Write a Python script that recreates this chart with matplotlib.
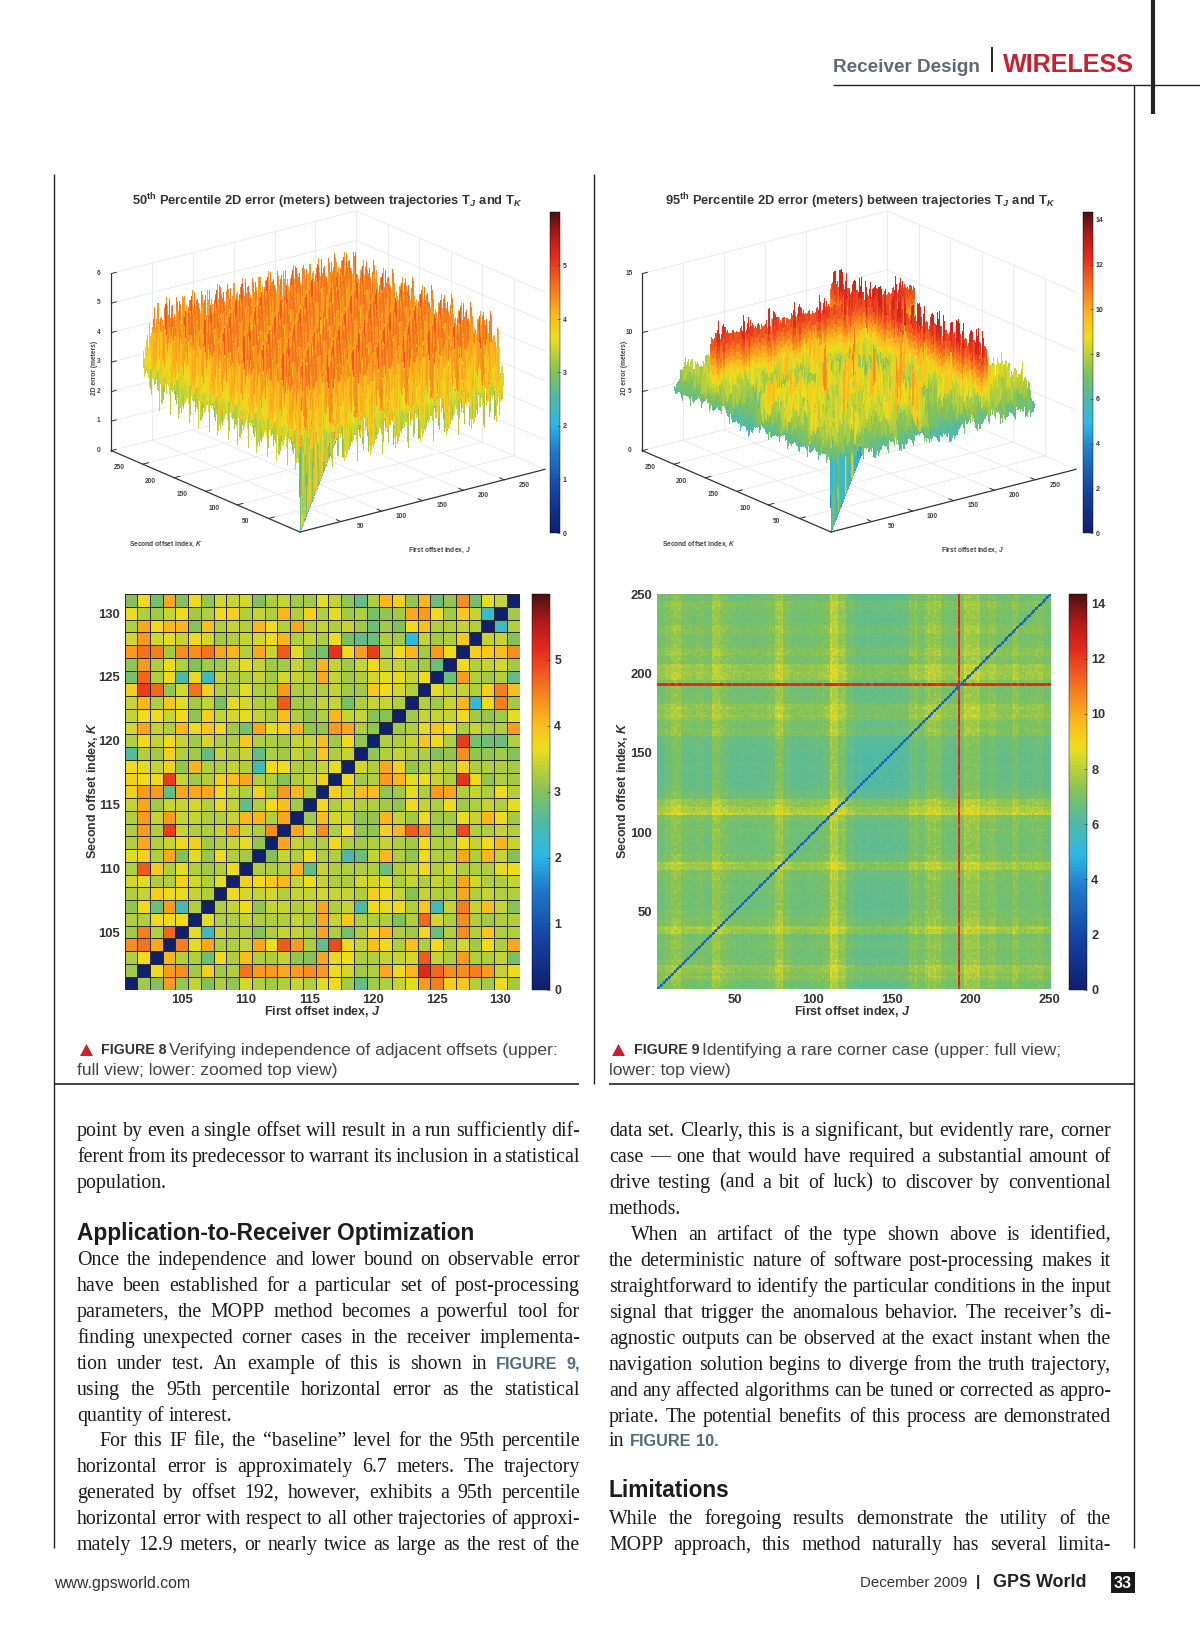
#!/usr/bin/python3
# coding=utf-8
import numpy as np
import matplotlib
matplotlib.use("Agg")
import matplotlib.pyplot as plt
from matplotlib import font_manager
from matplotlib.cm import ScalarMappable
from matplotlib.colors import LinearSegmentedColormap, Normalize
from mpl_toolkits.mplot3d import proj3d

plt.rcParams['font.family'] = ['Liberation Sans', 'DejaVu Sans']
plt.rcParams['mathtext.fontset'] = 'custom'
plt.rcParams['mathtext.rm'] = 'Liberation Sans:bold'
plt.rcParams['mathtext.it'] = 'Liberation Sans:italic:bold'
plt.rcParams['mathtext.bf'] = 'Liberation Sans:bold'

# Figure 8 lower panel, read cell by cell (rows K=131 down to K=101, columns J=101..131)
FIG8_ZOOM = [
    [3.0,3.7,2.9,4.2,3.0,3.7,3.1,3.5,3.4,3.5,3.0,3.3,3.4,3.2,3.2,3.6,3.4,3.1,2.7,3.3,4.1,3.8,3.1,4.1,2.8,3.1,4.4,2.9,3.6,3.4,0],
    [3.7,3.3,3.2,3.4,3.7,3.2,3.3,3.7,3.8,3.3,3.4,3.3,4.1,3.3,3.8,3.3,3.6,3.2,3.3,2.9,3.1,3.2,4.2,4.3,3.7,3.2,3.9,3.4,2.2,0,3.2],
    [3.3,4.2,3.7,4.1,4.1,3.0,4.0,3.3,3.4,3.3,4.1,3.7,3.3,4.2,3.3,3.4,3.3,3.4,3.2,2.8,3.2,3.0,3.7,4.0,3.3,3.3,3.4,3.3,0,2.3,3.3],
    [3.5,4.3,3.5,3.6,3.4,3.7,3.5,3.2,3.3,3.4,3.5,3.7,4.1,3.3,3.4,3.3,3.7,2.9,2.7,2.8,3.3,3.2,2.1,3.4,3.2,3.3,3.9,0,3.4,3.4,3.0],
    [4.3,4.6,4.5,3.2,4.4,4.4,4.6,4.2,4.1,3.3,4.2,3.4,4.8,3.6,3.1,2.9,5.1,3.7,4.3,5.0,3.3,3.7,4.1,3.2,4.3,3.7,0,3.8,3.9,4.0,4.4],
    [3.1,4.3,3.3,3.7,3.3,3.0,3.2,3.2,3.4,3.6,3.4,3.2,3.2,3.4,3.2,4.1,3.4,3.2,3.4,3.7,3.4,3.4,3.3,3.2,2.8,0,3.7,3.3,3.4,3.5,3.2],
    [2.9,4.7,3.3,3.7,2.5,3.6,2.3,3.4,3.3,3.3,3.4,3.2,3.5,3.4,3.3,4.2,3.4,3.2,3.3,3.5,3.6,3.6,3.4,3.7,0,2.8,4.3,3.3,3.2,3.3,2.7],
    [3.8,5.0,4.7,3.1,3.5,4.6,3.8,3.3,3.3,3.6,3.3,3.3,4.3,3.3,3.3,3.3,3.4,3.2,3.2,3.9,3.7,3.5,3.3,0,3.6,3.4,3.4,3.3,3.8,4.5,4.0],
    [3.4,4.1,3.3,3.9,3.6,3.2,3.4,2.9,3.6,3.5,3.3,3.3,4.8,3.2,3.2,3.4,3.4,2.9,3.3,3.4,3.4,3.3,0,3.3,3.2,3.4,4.1,2.2,3.7,4.5,3.2],
    [3.4,3.7,3.7,3.4,3.7,3.1,3.8,3.4,3.5,3.6,3.4,3.3,4.0,3.3,3.1,3.3,4.1,3.4,3.4,3.0,3.0,0,3.2,3.4,3.4,3.4,3.7,3.2,3.1,3.2,3.6],
    [3.5,4.2,3.4,3.3,4.1,3.7,3.9,3.7,3.2,2.9,4.2,3.6,3.8,4.1,3.1,3.1,4.3,4.2,3.3,3.1,0,3.2,3.3,3.6,3.9,3.7,3.3,3.4,3.3,3.3,4.3],
    [3.3,3.7,3.4,3.7,3.4,3.2,3.5,3.3,3.3,3.9,3.3,3.3,3.2,3.4,3.4,4.0,3.2,3.7,3.1,0,3.3,3.3,3.4,3.9,3.7,3.3,5.0,2.9,2.8,2.8,3.3],
    [2.6,3.3,3.2,3.8,3.3,3.2,2.7,3.4,3.3,3.4,2.7,3.3,3.2,3.4,3.2,3.9,3.3,3.4,0,3.1,3.3,3.4,3.3,3.3,3.0,3.1,4.4,3.1,3.1,3.2,3.0],
    [3.7,3.6,3.4,3.8,3.1,4.1,3.3,3.3,3.4,3.3,2.4,3.7,3.7,3.3,3.3,3.4,3.6,0,3.5,3.3,4.2,3.8,3.1,3.3,3.4,3.3,3.8,3.3,3.3,3.3,3.2],
    [3.8,3.7,3.7,5.0,3.4,3.2,3.3,3.8,4.0,4.2,3.3,3.3,3.0,3.3,3.4,3.8,0,3.7,3.2,3.3,4.3,4.1,3.6,3.7,3.4,3.3,5.1,3.7,3.1,3.3,3.2],
    [3.8,4.3,4.3,2.7,4.2,4.2,4.2,3.7,3.4,3.3,3.8,3.3,4.3,4.1,3.3,0,3.8,3.5,4.0,4.0,3.1,3.2,3.6,3.3,4.3,4.2,3.3,3.4,3.3,3.7,3.3],
    [3.4,4.2,3.2,3.4,3.4,3.5,3.3,3.6,3.4,2.7,3.3,3.7,4.0,3.2,0,3.7,3.3,3.5,3.3,3.3,3.2,3.1,3.7,3.4,3.3,3.7,3.2,3.3,3.4,3.3,3.6],
    [3.3,4.3,3.4,4.3,3.4,3.4,3.3,3.3,3.4,4.1,4.1,3.3,4.2,0,3.2,4.0,3.5,3.4,3.1,3.1,4.1,3.4,3.2,3.7,3.2,3.2,3.7,3.4,4.1,3.7,3.2],
    [3.3,4.3,3.3,5.0,3.4,3.3,3.3,3.4,4.2,3.4,3.3,4.4,0,4.2,3.5,4.4,3.3,3.7,3.1,3.1,3.8,4.1,4.8,4.4,3.2,3.3,4.9,3.3,3.3,3.4,3.3],
    [3.3,4.2,3.3,3.4,3.7,3.8,3.2,3.3,3.4,3.6,3.1,0,4.2,3.4,3.3,3.3,3.7,3.3,3.2,3.3,3.4,3.3,3.2,3.7,3.3,3.3,3.7,3.4,3.7,4.1,3.4],
    [3.6,3.8,3.3,4.2,3.0,3.6,3.1,3.7,3.3,3.2,0,3.0,3.4,3.3,3.7,3.3,3.3,2.5,2.8,3.4,4.1,3.3,3.1,3.7,3.3,3.3,4.2,3.3,4.1,3.4,3.0],
    [3.3,4.8,3.9,3.3,3.6,3.3,3.2,3.3,3.7,0,3.3,3.3,3.3,4.1,2.7,3.4,3.3,3.3,3.3,3.3,2.8,3.3,3.4,3.7,3.3,3.5,3.3,3.3,3.3,3.6,3.7],
    [3.5,3.6,3.3,3.3,3.8,3.5,3.3,3.6,0,3.8,3.7,3.9,4.1,3.4,3.7,3.4,3.3,3.3,3.5,3.5,3.6,3.3,3.4,3.3,3.4,3.3,4.2,3.5,3.3,3.3,3.4],
    [3.3,3.4,3.8,3.7,3.6,3.4,3.3,0,3.7,3.5,3.4,3.5,3.3,3.4,3.4,3.5,3.4,3.4,3.3,3.8,3.7,3.4,3.0,3.4,3.3,3.3,4.2,3.3,3.4,3.3,3.3],
    [3.1,3.7,2.8,4.3,2.4,3.3,0,3.3,3.4,3.7,3.1,3.4,3.4,3.3,3.4,4.2,3.3,3.4,2.5,3.7,3.6,3.7,3.3,3.9,2.4,3.4,4.5,3.4,4.0,3.4,3.0],
    [3.3,3.3,3.7,3.7,3.7,0,3.6,3.3,3.3,3.4,3.3,3.3,3.3,3.4,3.3,4.2,3.4,3.9,3.3,3.3,3.3,3.0,3.3,4.7,3.5,3.3,4.4,3.3,3.2,3.3,3.3],
    [3.2,4.5,3.3,4.7,0,3.6,2.3,3.4,3.3,3.3,3.0,3.3,3.4,3.4,3.3,4.2,3.3,2.9,3.3,3.8,4.1,3.3,3.2,3.7,2.8,3.3,4.4,3.3,3.9,3.3,3.3],
    [4.4,4.6,4.2,0,4.5,3.6,4.2,3.3,3.3,3.4,4.2,3.7,4.8,4.3,3.3,2.7,4.9,3.7,3.4,4.0,3.7,3.3,4.0,3.3,3.7,3.3,3.5,3.2,3.7,3.3,4.2],
    [3.3,3.7,0,4.1,3.3,3.3,2.8,3.7,3.3,4.0,3.3,3.3,3.4,3.1,3.0,4.2,3.6,3.7,3.3,3.3,3.4,3.4,3.5,4.8,3.4,3.3,4.3,3.3,3.3,3.4,2.9],
    [3.2,0,3.7,4.3,4.4,3.2,3.8,3.2,3.3,4.6,4.3,4.3,4.2,4.3,4.4,4.3,3.7,3.5,3.2,3.3,4.2,3.7,4.1,5.2,4.7,4.4,4.4,4.5,4.3,3.4,3.7],
    [0,3.2,3.0,4.3,3.1,3.4,3.0,3.3,3.1,3.5,3.3,3.2,3.3,3.4,3.3,3.6,3.7,3.2,2.7,3.2,3.3,3.4,3.6,4.3,4.5,3.8,3.9,3.3,3.2,3.7,3.2],
]
ZOOM_TICKS = [105, 110, 115, 120, 125, 130]

# Figure 9 band level against the 6.7 m baseline, one value per 5 offsets, read from the top view
BAND_LEVELS = [
    0.1, 0.5, 0.8, 0.2, 0.1, 0.3, 0.1, 1.0, 0.4, 0.1,
    0.0, 0.0, 0.1, 0.1, 0.3, 1.0, 0.3, 0.0, 0.0, 0.1,
    0.1, 0.3, 1.4, 0.8, 0.0, -0.3, -0.4, -0.4, -0.4, -0.4,
    -0.3, -0.2, 0.4, 0.2, 0.7, 0.8, 0.2, 0.1, 0.3, 1.0,
    0.9, 0.3, 0.6, 0.2, 0.2, 0.5, 0.1, 0.2, 0.4, 0.0,
]
BASELINE = 6.7
CORNER_OFFSET = 192
CORNER_LEVEL = 12.4
DIAGONAL_TOP_VIEW = 3.0
FULL_TICKS = [50, 100, 150, 200, 250]

# Tallest spikes seen in the Figure 8 surface: J, K, height
FIG8_SPIKES_J = [212, 230, 190, 170, 150, 240, 120]
FIG8_SPIKES_K = [221, 210, 225, 232, 240, 190, 236]
FIG8_SPIKES_Z = [5.9, 5.9, 5.4, 5.3, 5.2, 5.4, 5.1]

CB8_MAX = 6.0
CB9_MAX = 14.35

# The 250x250 matrices cannot be read cell by cell from the page. Their fine texture
# reuses the read 31x31 matrix above, stepped through so that neighbours differ,
# so it is an approximation of the look and not the real per-cell data.
STEP_J, STEP_K = 7, 13
N_FULL = 250

cmap = LinearSegmentedColormap.from_list("print_jet", [
    (0.00, "#101f6e"), (0.12, "#1440a0"), (0.25, "#1f78c8"), (0.34, "#2cb8e6"),
    (0.42, "#4fb9a8"), (0.50, "#82c25a"), (0.56, "#bcd138"), (0.61, "#eedd1e"),
    (0.68, "#fbb81e"), (0.78, "#f26a1f"), (0.86, "#e52a1e"), (0.93, "#b01a18"),
    (1.00, "#4d1010")])

W, H = 1200, 1626
fig = plt.figure(figsize=(W / 100, H / 100), dpi=100, facecolor="white")
page = fig.add_axes([0, 0, 1, 1])
page.set_xlim(0, W)
page.set_ylim(H, 0)
page.set_xticks([])
page.set_yticks([])
page.axis("off")

installed = {f.name for f in font_manager.fontManager.ttflist}
NARROW = "Liberation Sans Narrow" if "Liberation Sans Narrow" in installed else "Liberation Sans"


def px_axes(x0, y0, x1, y1, **kw):
    return fig.add_axes([x0 / W, 1 - y1 / H, (x1 - x0) / W, (y1 - y0) / H], **kw)


def texture():
    m = np.array(FIG8_ZOOM, dtype=float)
    typical = m[m > 1].mean()
    m[m < 1] = typical
    jj = (np.arange(N_FULL) * STEP_J) % 31
    kk = (np.arange(N_FULL) * STEP_K) % 31
    return m[np.ix_(kk, jj)], typical


def fig8_matrix():
    tex, typical = texture()
    z = typical + 0.1 + (tex - typical) * 1.25
    for j, k, s in zip(FIG8_SPIKES_J, FIG8_SPIKES_K, FIG8_SPIKES_Z):
        z[k - 1, j - 1] = s
    z[np.arange(N_FULL), np.arange(N_FULL)] = 0
    return z


def fig9_matrix(band_gain, tex_gain, ridge_gain, spike_gain):
    tex, typical = texture()
    band = np.repeat(BAND_LEVELS, 5) * band_gain
    bands = band[:, None] + band[None, :]
    z = BASELINE + bands + (tex - typical) * (tex_gain + spike_gain * np.maximum(bands, 0))
    i = CORNER_OFFSET - 1
    z[i, :] = CORNER_LEVEL + (tex[i, :] - typical) * ridge_gain
    z[:, i] = CORNER_LEVEL + (tex[:, i] - typical) * ridge_gain
    return z


def to_screen(ax, x, y, z):
    a, b, _ = proj3d.proj_transform(x, y, z, ax.get_proj())
    return ax.transData.transform((a, b))


def label_3d(ax, x, y, z, s, fs):
    # 3D labels are placed on the page at the projected position of their data point
    px = to_screen(ax, x, y, z)
    page.text(px[0], H - px[1], s, fontsize=fs, fontweight="bold", color="#444444",
              ha="center", va="center")


def refined_mesh(z, offsets):
    # extra grid lines next to a ridge so that its walls shade from bottom to top
    base = np.arange(1, N_FULL + 1, dtype=float)
    grid = set(base.tolist())
    for o in offsets:
        grid.update(np.linspace(o - 1, o + 1, 17).tolist())
    grid = np.array(sorted(grid))
    zr = np.array([np.interp(grid, base, row) for row in z])
    zr = np.array([np.interp(grid, base, col) for col in zr.T]).T
    return grid, zr


def surface_panel(z, vmax, zmax, zticks, origin, jend, refine=(), ztick_fs=4.8):
    ax = fig.add_axes([0.1, 0.6, 0.4, 0.3], projection="3d")
    ax.patch.set_alpha(0)
    ax.set_proj_type("ortho")
    ax.view_init(elev=19.4, azim=-127.6)
    ax.set_xlim(0, 300)
    ax.set_ylim(0, 300)
    ax.set_zlim(0, zmax)
    ax.set_box_aspect((1, 1, 0.607))
    ax.set_xticks([])
    ax.set_yticks([])
    ax.set_zticks([])
    ax.set_axis_off()
    ax.computed_zorder = False

    # fit the axes so that the box corners land where they sit on the page
    for _ in range(3):
        ax.apply_aspect()
        p0 = to_screen(ax, 0, 0, 0)
        p1 = to_screen(ax, 300, 0, 0)
        pos = ax.get_position()
        s = (jend[0] - origin[0]) / (p1[0] - p0[0])
        ax.set_position([pos.x0, pos.y0, pos.width * s, pos.height * s])
        ax.apply_aspect()
        p0 = to_screen(ax, 0, 0, 0)
        pos = ax.get_position()
        ax.set_position([pos.x0 + (origin[0] - p0[0]) / W,
                         pos.y0 + ((H - origin[1]) - p0[1]) / H,
                         pos.width, pos.height])
    ax.apply_aspect()

    grid = dict(color="#e4e4e4", lw=0.5, zorder=1)
    for t in FULL_TICKS:
        ax.plot([t, t], [0, 300], [0, 0], **grid)
        ax.plot([0, 300], [t, t], [0, 0], **grid)
        ax.plot([t, t], [300, 300], [0, zmax], **grid)
        ax.plot([300, 300], [t, t], [0, zmax], **grid)
    for t in zticks[1:]:
        ax.plot([0, 300], [300, 300], [t, t], **grid)
        ax.plot([300, 300], [0, 300], [t, t], **grid)
    ax.plot([300, 300], [300, 300], [0, zmax], **grid)
    ax.plot([300, 300], [0, 300], [0, 0], **grid)
    ax.plot([0, 300], [300, 300], [0, 0], **grid)

    off, zr = refined_mesh(z, refine)
    jj, kk = np.meshgrid(off, off)
    # a cell takes its colour a little above its mean, towards its highest corner
    stack = np.stack([zr[:-1, :-1], zr[1:, :-1], zr[:-1, 1:], zr[1:, 1:]])
    mean = stack.mean(axis=0)
    val = mean + 0.2 * (stack.max(axis=0) - mean)
    colors = cmap(Normalize(0, vmax)(val))
    ax.plot_surface(jj, kk, zr, rstride=1, cstride=1, facecolors=colors,
                    linewidth=0, antialiased=False, shade=False, zorder=2)

    edge = dict(color="#333333", lw=0.9, zorder=3)
    ax.plot([0, 300], [0, 0], [0, 0], **edge)
    ax.plot([0, 0], [0, 300], [0, 0], **edge)
    ax.plot([0, 0], [300, 300], [0, zmax], **edge)
    tick = dict(color="#333333", lw=0.7, zorder=3)
    for t in FULL_TICKS:
        ax.plot([t, t], [0, 7], [0, 0], **tick)
        ax.plot([0, 7], [t, t], [0, 0], **tick)
        label_3d(ax, t + 6, -24, 0, str(t), ztick_fs)
        label_3d(ax, -24, t + 6, 0, str(t), ztick_fs)
    for t in zticks:
        ax.plot([0, 6], [300, 300], [t, t], **tick)
        label_3d(ax, -9, 309, t, str(t), ztick_fs)
    return ax


def colorbar(x0, y0, x1, y1, vmax, ticks, fs, pad=2):
    cax = px_axes(x0, y0, x1, y1)
    cb = fig.colorbar(ScalarMappable(Normalize(0, vmax), cmap), cax=cax)
    cb.set_ticks(ticks)
    cb.outline.set_linewidth(0.3)
    cax.tick_params(length=2, width=0.4, pad=pad, direction="in", labelsize=fs, colors="#333333")
    for lab in cax.get_yticklabels():
        lab.set_fontweight("bold")


def style_top_view(ax):
    ax.tick_params(length=0, pad=3, labelsize=9.4, colors="#333333")
    for lab in ax.get_xticklabels() + ax.get_yticklabels():
        lab.set_fontweight("bold")
    for s in ax.spines.values():
        s.set_visible(False)


# -------- Figure 8 and 9 surfaces
surface_panel(fig8_matrix(), CB8_MAX, 6, [0, 1, 2, 3, 4, 5, 6], (300, 532), (545, 470))
z9_surface = fig9_matrix(1.0, 0.9, 1.5, 0.5) - 0.35
z9_surface[np.arange(N_FULL), np.arange(N_FULL)] = 0
surface_panel(z9_surface, CB9_MAX, 15, [0, 5, 10, 15], (831, 532), (1076, 470),
              refine=[CORNER_OFFSET])

colorbar(550, 212, 560, 533, CB8_MAX, [0, 1, 2, 3, 4, 5], 5)
colorbar(1083, 212, 1093, 533, CB9_MAX, list(range(0, 15, 2)), 5)

# -------- Figure 8 top view
ax8 = px_axes(124.5, 594, 519.6, 989.5)
edges = np.arange(100.5, 132.5)
ax8.pcolormesh(edges, edges, np.array(FIG8_ZOOM)[::-1], cmap=cmap, vmin=0, vmax=CB8_MAX,
               edgecolors="#2a2a1e", linewidth=0.55)
ax8.set_xticks(ZOOM_TICKS)
ax8.set_yticks(ZOOM_TICKS)
style_top_view(ax8)
colorbar(532, 594, 550, 989.5, CB8_MAX, [0, 1, 2, 3, 4, 5], 8.8, pad=3)

# -------- Figure 9 top view
z9_top = fig9_matrix(0.75, 0.22, 0.5, 0.25)
z9_top[CORNER_OFFSET, :] = z9_top[CORNER_OFFSET - 1, :]
for d in (0, 1):
    idx = np.arange(N_FULL - d)
    z9_top[idx, idx + d] = DIAGONAL_TOP_VIEW
ax9 = px_axes(656.5, 594, 1050, 989.5)
ax9.imshow(z9_top, origin="lower", extent=(0.5, 250.5, 0.5, 250.5), aspect="auto",
           cmap=cmap, vmin=0, vmax=CB9_MAX, interpolation="nearest")
ax9.set_xticks(FULL_TICKS)
ax9.set_yticks(FULL_TICKS)
style_top_view(ax9)
colorbar(1069, 594, 1087, 989.5, CB9_MAX, list(range(0, 15, 2)), 9.2, pad=3)

# -------- labels that sit outside the axes, in page pixels
dark = "#333333"
TITLE = r"$\mathrm{%s^{th}\ Percentile\ 2D\ error\ (meters)\ between\ trajectories\ T}_{\mathit{J}}\mathrm{\ and\ T}_{\mathit{K}}$"
page.text(327, 201, TITLE % "50", fontsize=9.25, color=dark, ha="center", va="center")
page.text(860, 201, TITLE % "95", fontsize=9.25, color=dark, ha="center", va="center")

lab3d = dict(fontsize=4.8, fontweight="bold", color="#444444", va="center")
for dx, zx in ((0, 95), (533, 624)):
    page.text(129 + dx, 544, "Second offset index, $\\mathit{K}$", ha="left", **lab3d)
    page.text(408 + dx, 550, "First offset index, $\\mathit{J}$", ha="left", **lab3d)
    page.text(zx, 368, "2D error (meters)", rotation=90, ha="center", **lab3d)

lab2d = dict(fontsize=9, fontweight="bold", color=dark, va="center")
page.text(322, 1011, "First offset index, $\\mathit{J}$", ha="center", **lab2d)
page.text(852, 1011, "First offset index, $\\mathit{J}$", ha="center", **lab2d)
page.text(92, 790, "Second offset index, $\\mathit{K}$", rotation=90, ha="center", **lab2d)
page.text(623, 790, "Second offset index, $\\mathit{K}$", rotation=90, ha="center", **lab2d)

# -------- page furniture
rule = dict(color="#222222", solid_capstyle="butt")
page.plot([54, 54], [174, 1548], lw=1.0, **rule)
page.plot([594, 594], [174, 1084], lw=1.0, **rule)
page.plot([1134, 1134], [85, 1548], lw=1.0, **rule)
page.plot([54, 579], [1084, 1084], lw=1.2, **rule)
page.plot([609, 1134], [1084, 1084], lw=1.2, **rule)
page.plot([833, 1200], [85, 85], lw=1.0, **rule)
page.plot([1153, 1153], [0, 114], lw=3.0, **rule)
page.plot([992, 992], [47, 72], lw=1.4, **rule)
page.text(833, 67, "Receiver Design", fontsize=13.6, fontweight="bold", color="#5e6a73", va="center")
page.text(1003, 65, "WIRELESS", fontsize=18.1, fontweight="bold", color="#c8202f", va="center")

RED = "#c8202f"
page.fill([80, 93, 86.5], [1056, 1056, 1044], color=RED, lw=0)
page.fill([612, 625, 618.5], [1056, 1056, 1044], color=RED, lw=0)
cap = dict(fontsize=12.6, color="#444444", va="center")
fig_label_fs = 12 if NARROW != "Liberation Sans" else 10.2
fb = dict(fontsize=fig_label_fs, fontweight="bold", color="#333333", va="center", family=NARROW)
page.text(101, 1050, "FIGURE 8", **fb)
page.text(169, 1050, "Verifying independence of adjacent offsets (upper:", **cap)
page.text(77, 1070, "full view; lower: zoomed top view)", **cap)
page.text(634, 1050, "FIGURE 9", **fb)
page.text(702, 1050, "Identifying a rare corner case (upper: full view;", **cap)
page.text(609, 1070, "lower: top view)", **cap)

page.text(54, 1583, "www.gpsworld.com", fontsize=11.4, color="#333333", va="center")
page.text(860, 1583, "December 2009", fontsize=10.8, color="#333333", va="center")
page.text(978, 1582, "|", fontsize=11, fontweight="bold", color="#222222", va="center", ha="center")
page.text(993, 1582, "GPS World", fontsize=12.9, fontweight="bold", color="#222222", va="center")
page.fill([1111, 1135, 1135, 1111], [1572, 1572, 1593, 1593], color="#1a1a1a", lw=0)
page.text(1123, 1583, "33", fontsize=11.5, fontweight="bold", color="white", va="center", ha="center")

# -------- body text
renderer = fig.canvas.get_renderer()
BODY_FS = 14.3


def text_line(line, x0, x1, y, justify=True):
    words = line.split(" ")
    arts = []
    for w in words:
        if w.startswith("@"):
            fs = BODY_FS - 1.0 if NARROW != "Liberation Sans" else BODY_FS - 2.6
            arts.append(page.text(x0, y, w[1:], fontsize=fs, fontweight="bold",
                                  color="#4e6b80", va="center", family=NARROW))
        else:
            arts.append(page.text(x0, y, w, fontsize=BODY_FS, color="#1c1c1c", va="center",
                                  family="Liberation Serif"))
    widths = [a.get_window_extent(renderer).width for a in arts]
    gap = 5.0
    if justify and len(words) > 1:
        gap = (x1 - x0 - sum(widths)) / (len(words) - 1)
    x = x0
    for a, wd in zip(arts, widths):
        a.set_x(x)
        x += wd + gap


LEFT_LINES = [
    (1131, "point by even a single offset will result in a run sufficiently dif-", True),
    (1157, "ferent from its predecessor to warrant its inclusion in a statistical", True),
    (1183, "population.", False),
    (1260, "Once the independence and lower bound on observable error", True),
    (1286, "have been established for a particular set of post-processing", True),
    (1312, "parameters, the MOPP method becomes a powerful tool for", True),
    (1338, "finding unexpected corner cases in the receiver implementa-", True),
    (1364, "tion under test. An example of this is shown in @FIGURE @9,", True),
    (1390, "using the 95th percentile horizontal error as the statistical", True),
    (1416, "quantity of interest.", False),
    (1441, "    For this IF file, the \u201cbaseline\u201d level for the 95th percentile", True),
    (1467, "horizontal error is approximately 6.7 meters. The trajectory", True),
    (1493, "generated by offset 192, however, exhibits a 95th percentile", True),
    (1519, "horizontal error with respect to all other trajectories of approxi-", True),
    (1545, "mately 12.9 meters, or nearly twice as large as the rest of the", True),
]
RIGHT_LINES = [
    (1131, "data set. Clearly, this is a significant, but evidently rare, corner", True),
    (1157, "case \u2014 one that would have required a substantial amount of", True),
    (1183, "drive testing (and a bit of luck) to discover by conventional", True),
    (1209, "methods.", False),
    (1235, "    When an artifact of the type shown above is identified,", True),
    (1261, "the deterministic nature of software post-processing makes it", True),
    (1287, "straightforward to identify the particular conditions in the input", True),
    (1313, "signal that trigger the anomalous behavior. The receiver\u2019s di-", True),
    (1339, "agnostic outputs can be observed at the exact instant when the", True),
    (1365, "navigation solution begins to diverge from the truth trajectory,", True),
    (1391, "and any affected algorithms can be tuned or corrected as appro-", True),
    (1417, "priate. The potential benefits of this process are demonstrated", True),
    (1441, "in @FIGURE @10.", False),
    (1519, "While the foregoing results demonstrate the utility of the", True),
    (1545, "MOPP approach, this method naturally has several limita-", True),
]
for y, line, just in LEFT_LINES:
    if line.startswith("    "):
        text_line(line.strip(), 99, 580, y, just)
    else:
        text_line(line, 77, 580, y, just)
for y, line, just in RIGHT_LINES:
    if line.startswith("    "):
        text_line(line.strip(), 631, 1111, y, just)
    else:
        text_line(line, 609, 1111, y, just)

page.text(77, 1233, "Application-to-Receiver Optimization", fontsize=16.3, fontweight="bold",
          color="#1c1c1c", va="center")
page.text(609, 1490, "Limitations", fontsize=16.3, fontweight="bold", color="#1c1c1c", va="center")

fig.savefig("out.png", dpi=100, facecolor="white")
